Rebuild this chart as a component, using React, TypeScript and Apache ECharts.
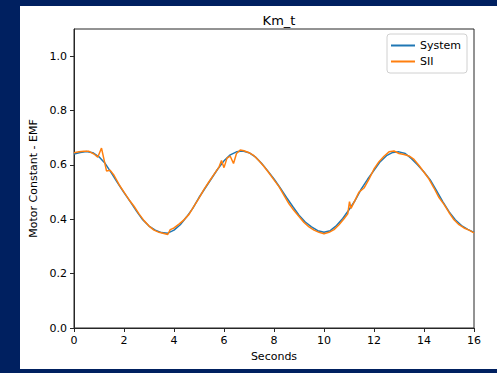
import React, { useEffect, useRef } from "react";
import * as echarts from "echarts";

const systemTime = [
  0, 0.25, 0.5, 0.75, 1, 1.25, 1.5, 1.75, 2, 2.25, 2.5, 2.75, 3, 3.25, 3.5, 3.75,
  4, 4.25, 4.5, 4.75, 5, 5.25, 5.5, 5.75, 6, 6.25, 6.5, 6.75, 7, 7.25, 7.5, 7.75,
  8, 8.25, 8.5, 8.75, 9, 9.25, 9.5, 9.75, 10, 10.25, 10.5, 10.75, 11, 11.25, 11.5, 11.75,
  12, 12.25, 12.5, 12.75, 13, 13.25, 13.5, 13.75, 14, 14.25, 14.5, 14.75, 15, 15.25, 15.5, 15.75, 16,
];
const systemValues = [
  0.64, 0.646, 0.649, 0.645, 0.63, 0.605, 0.57, 0.533, 0.498, 0.465, 0.43, 0.398, 0.375, 0.36, 0.351, 0.349,
  0.36, 0.38, 0.408, 0.44, 0.48, 0.515, 0.55, 0.585, 0.615, 0.637, 0.648, 0.651, 0.645, 0.63, 0.606, 0.578,
  0.548, 0.515, 0.48, 0.447, 0.415, 0.39, 0.372, 0.358, 0.352, 0.358, 0.377, 0.403, 0.435, 0.47, 0.513, 0.548,
  0.58, 0.612, 0.634, 0.646, 0.648, 0.642, 0.623, 0.6, 0.574, 0.545, 0.505, 0.465, 0.428, 0.398, 0.377, 0.363, 0.352,
];

const siiTime = [
  0, 0.2, 0.4, 0.6, 0.8, 0.95, 1.1, 1.3, 1.45, 1.6, 1.8, 2, 2.2, 2.4, 2.6, 2.8, 3, 3.2, 3.4, 3.6, 3.75, 3.85,
  4, 4.2, 4.4, 4.6, 4.8, 5, 5.2, 5.4, 5.6, 5.8, 5.9, 6, 6.12, 6.25, 6.38, 6.5, 6.65, 6.8, 7, 7.2, 7.4, 7.6, 7.8,
  8, 8.2, 8.4, 8.6, 8.8, 9, 9.2, 9.4, 9.6, 9.8, 10, 10.2, 10.4, 10.6, 10.8, 10.95, 11.02, 11.08, 11.2, 11.4, 11.6, 11.8,
  12, 12.2, 12.4, 12.6, 12.8, 13, 13.2, 13.4, 13.6, 13.8, 14, 14.2, 14.4, 14.6, 14.8, 15, 15.2, 15.4, 15.6, 15.8, 16,
];
const siiValues = [
  0.645, 0.648, 0.65, 0.65, 0.64, 0.628, 0.662, 0.578, 0.58, 0.562, 0.528, 0.5, 0.472, 0.448, 0.42, 0.395, 0.375, 0.36, 0.352, 0.348, 0.344, 0.362,
  0.368, 0.382, 0.398, 0.418, 0.448, 0.478, 0.51, 0.538, 0.565, 0.592, 0.616, 0.59, 0.625, 0.632, 0.605, 0.642, 0.655, 0.652, 0.645, 0.634, 0.615, 0.594, 0.57,
  0.545, 0.52, 0.488, 0.457, 0.432, 0.41, 0.388, 0.372, 0.36, 0.352, 0.347, 0.352, 0.362, 0.38, 0.402, 0.42, 0.465, 0.44, 0.462, 0.5, 0.515, 0.548,
  0.585, 0.612, 0.632, 0.648, 0.651, 0.642, 0.638, 0.633, 0.62, 0.598, 0.573, 0.548, 0.515, 0.48, 0.455, 0.425, 0.398, 0.38, 0.368, 0.36, 0.35,
];

const yTicks = [0, 0.2, 0.4, 0.6, 0.8, 1.0];
const xTicks = [0, 2, 4, 6, 8, 10, 12, 14, 16];

const FONT = "DejaVu Sans";

export default function App() {
  const ref = useRef<HTMLDivElement>(null);
  useEffect(() => {
    document.body.style.margin = "0";
    const chart = echarts.init(ref.current!, null, { renderer: "svg" });
    const axisLine = { show: true, lineStyle: { color: "#262626", width: 1 } };
    chart.setOption({
      animation: false,
      backgroundColor: "#002060",
      graphic: [
        {
          type: "rect",
          z: -10,
          shape: { x: 20, y: 6, width: 477, height: 363 },
          style: { fill: "#ffffff" },
        },
      ],
      title: {
        text: "Km_t",
        left: 274,
        textAlign: "center",
        top: 9,
        textStyle: { fontFamily: FONT, fontSize: 13, fontWeight: "normal", color: "#000" },
      },
      legend: {
        left: 387,
        top: 34,
        orient: "vertical",
        icon: "rect",
        itemWidth: 24,
        itemHeight: 2,
        itemGap: 5,
        padding: [6, 6, 6, 4],
        borderColor: "#d0d0d0",
        borderWidth: 1,
        borderRadius: 3,
        backgroundColor: "rgba(255,255,255,0.8)",
        textStyle: { fontFamily: FONT, fontSize: 11, color: "#000" },
        data: ["System", "SII"],
      },
      grid: {
        left: 74,
        right: 23,
        top: 29,
        bottom: 45,
        show: true,
        borderColor: "#262626",
        borderWidth: 1,
        backgroundColor: "#fff",
      },
      xAxis: {
        type: "value",
        min: 0,
        max: 16,
        interval: 2,
        name: "Seconds",
        nameLocation: "middle",
        nameGap: 22,
        nameTextStyle: { fontFamily: FONT, fontSize: 11, color: "#000" },
        axisLine,
        axisTick: { show: true, length: 4, lineStyle: { color: "#262626" }, customValues: xTicks },
        axisLabel: { fontFamily: FONT, fontSize: 11, color: "#000", margin: 7, customValues: xTicks },
        splitLine: { show: false },
      },
      yAxis: {
        type: "value",
        min: 0,
        max: 1.1,
        interval: 0.1,
        name: "Motor Constant - EMF",
        nameLocation: "middle",
        nameGap: 32,
        nameTextStyle: { fontFamily: FONT, fontSize: 11, color: "#000" },
        axisLine,
        axisTick: { show: true, length: 4, lineStyle: { color: "#262626" }, customValues: yTicks },
        axisLabel: {
          fontFamily: FONT,
          fontSize: 11,
          color: "#000",
          margin: 7,
          customValues: yTicks,
          formatter: (v: number) => v.toFixed(1),
        },
        splitLine: { show: false },
      },
      series: [
        {
          name: "System",
          type: "line",
          showSymbol: false,
          symbol: "none",
          color: "#1f77b4",
          lineStyle: { width: 1.5, color: "#1f77b4" },
          data: systemTime.map((t, i) => [t, systemValues[i]]),
          z: 2,
        },
        {
          name: "SII",
          type: "line",
          showSymbol: false,
          symbol: "none",
          color: "#ff7f0e",
          lineStyle: { width: 1.5, color: "#ff7f0e" },
          data: siiTime.map((t, i) => [t, siiValues[i]]),
          z: 3,
        },
      ],
    });
    return () => chart.dispose();
  }, []);
  return (
    <div
      ref={ref}
      style={{ position: "absolute", left: 0, top: 0, width: 497, height: 373 }}
    />
  );
}
